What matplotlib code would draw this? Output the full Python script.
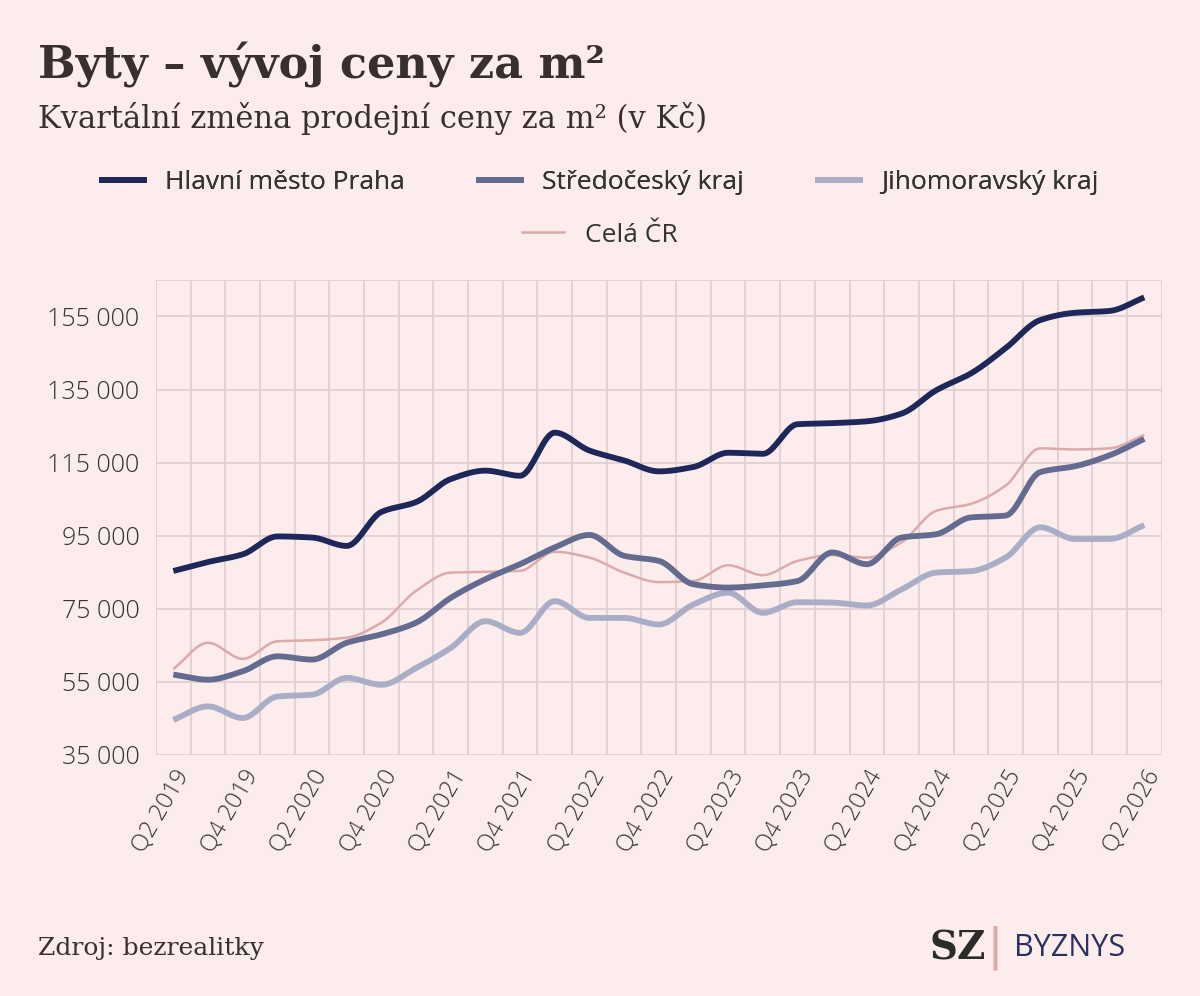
import matplotlib
matplotlib.use("Agg")
import matplotlib.pyplot as plt
from matplotlib.lines import Line2D
import numpy as np

quarters = [f"Q{q} {y}" for y in range(2019, 2027) for q in (1, 2, 3, 4)][1:30]
praha = [85350, 87800, 89900, 94800, 94500, 92200, 101500, 104200, 110500, 112800,
         111400, 123200, 118300, 115600, 112600, 113800, 117700, 117400, 125500, 125800,
         126300, 128400, 134800, 139400, 146300, 154000, 156000, 156500, 160200]
stredo = [57000, 55600, 57900, 62000, 61100, 65700, 68000, 71200, 78000, 83100,
          87200, 91800, 95200, 89500, 88100, 81700, 80800, 81400, 82600, 90400,
          87200, 94500, 95400, 100000, 100500, 112400, 114000, 117000, 121500]
jiho = [44600, 48300, 45100, 51000, 51500, 56100, 54200, 58800, 64300, 71600,
        68400, 77100, 72500, 72500, 70700, 76200, 79400, 73900, 76800, 76700,
        75900, 80300, 84900, 85300, 89000, 97300, 94100, 94100, 97900]
cr = [58500, 65700, 61300, 66100, 66400, 67100, 71200, 79900, 84900, 85100,
      85400, 90600, 89000, 84900, 82300, 82600, 86900, 84200, 88100, 89700,
      89000, 93200, 101800, 103700, 108700, 118900, 118600, 118900, 122600]
series_names = ["Hlavní město Praha", "Středočeský kraj", "Jihomoravský kraj", "Celá ČR"]
colors = ["#1e2759", "#636b91", "#a9aec6", "#dcaaab"]
widths = [4.2, 4.2, 4.2, 1.8]
yticks = [35000, 55000, 75000, 95000, 115000, 135000, 155000]

def smooth(x, y, n=20):
    x = np.asarray(x, float); y = np.asarray(y, float)
    h = np.diff(x); d = np.diff(y) / h
    m = np.zeros_like(y)
    m[0], m[-1] = d[0], d[-1]
    for i in range(1, len(y) - 1):
        if d[i - 1] * d[i] <= 0:
            m[i] = 0
        else:
            m[i] = 2 / (1 / d[i - 1] + 1 / d[i])
    xs, ys = [], []
    for i in range(len(x) - 1):
        t = np.linspace(0, 1, n, endpoint=False)
        h00 = 2*t**3 - 3*t**2 + 1; h10 = t**3 - 2*t**2 + t
        h01 = -2*t**3 + 3*t**2; h11 = t**3 - t**2
        xs.append(x[i] + t*h[i])
        ys.append(h00*y[i] + h10*h[i]*m[i] + h01*y[i+1] + h11*h[i]*m[i+1])
    xs.append([x[-1]]); ys.append([y[-1]])
    return np.concatenate(xs), np.concatenate(ys)

bg = "#fcecec"
gridc = "#e0d0d2"
fig = plt.figure(figsize=(12, 9.96), dpi=100, facecolor=bg)
ax = fig.add_axes([0.13, 0.242, 0.838, 0.477], facecolor=bg)
x = np.arange(len(quarters))
for data, c, w in zip([praha, stredo, jiho, cr][::-1], colors[::-1], widths[::-1]):
    sx, sy = smooth(x, data)
    ax.plot(sx, sy, color=c, lw=w, solid_capstyle="butt", zorder=3)

ax.set_xlim(-0.5, len(quarters) - 0.5)
ax.set_ylim(35000, 165000)
ax.set_yticks(yticks)
ax.set_yticklabels([f"{v:,}".replace(",", " ") for v in yticks], fontsize=18, color="#333333",
                   family="Open Sans", fontweight="light")
ax.set_xticks(x[::2])
ax.set_xticklabels(quarters[::2], rotation=60, ha="right", rotation_mode="anchor",
                   fontsize=17, color="#333333", family="Open Sans", fontweight="light")
ax.set_xticks(np.arange(-0.5, len(quarters), 1), minor=True)
ax.grid(which="minor", axis="x", color=gridc, lw=1.3)
ax.grid(which="major", axis="y", color=gridc, lw=1.3)
ax.grid(which="major", axis="x", visible=False)
ax.axhline(165000, color=gridc, lw=1.3)
ax.tick_params(which="both", length=0, pad=8)
ax.tick_params(axis="y", pad=12)
for s in ax.spines.values():
    s.set_visible(False)

fig.text(0.032, 0.935, "Byty – vývoj ceny za m²", fontsize=32, fontweight="bold",
         family="DejaVu Serif", color="#3a2f2f", va="center")
fig.text(0.032, 0.881, "Kvartální změna prodejní ceny za m² (v Kč)", fontsize=22,
         family="DejaVu Serif", color="#3a2f2f", va="center")

handles = [Line2D([], [], color=c, lw=w) for c, w in zip(colors, widths)]
leg1 = fig.legend(handles[:3], series_names[:3], loc="center", bbox_to_anchor=(0.5, 0.817),
                  ncol=3, frameon=False, prop={"family": "Open Sans", "size": 19},
                  handlelength=1.6, columnspacing=2.8, labelcolor="#333333")
fig.add_artist(leg1)
fig.legend(handles[3:], series_names[3:], loc="center", bbox_to_anchor=(0.5, 0.764),
           frameon=False, prop={"family": "Open Sans", "size": 19}, handlelength=1.6,
           labelcolor="#333333")

fig.text(0.032, 0.048, "Zdroj: bezrealitky", fontsize=18, family="DejaVu Serif",
         color="#3a2f2f", va="center")
fig.text(0.775, 0.048, "SZ", fontsize=28, fontweight="bold", family="DejaVu Serif",
         color="#2b2b2b", va="center")
fig.text(0.823, 0.048, "|", fontsize=32, color="#dcaaab", va="center")
fig.text(0.845, 0.048, "BYZNYS", fontsize=22, family="Open Sans", color="#2a3160", va="center")

fig.savefig("out.png", dpi=100, facecolor=bg)
